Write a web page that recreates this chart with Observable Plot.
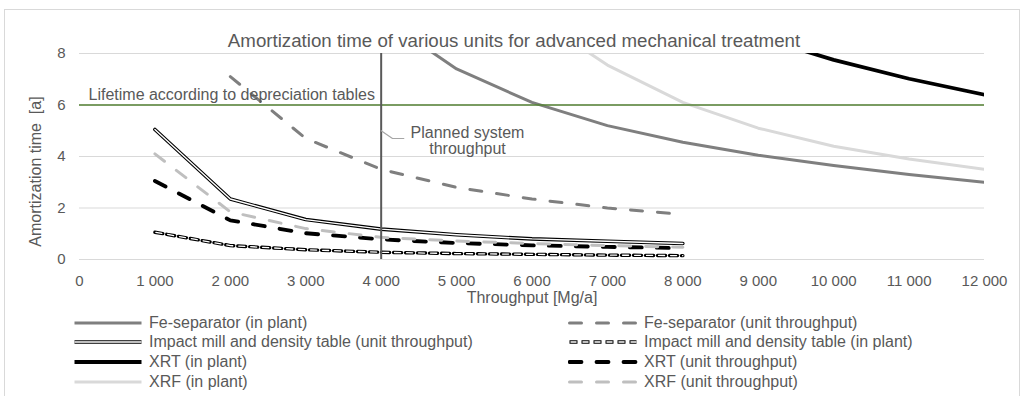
<!DOCTYPE html>
<html>
<head>
<meta charset="utf-8">
<script src="https://cdn.jsdelivr.net/npm/d3@7"></script>
<script src="https://cdn.jsdelivr.net/npm/@observablehq/plot@0.6"></script>
<style>
  html, body { margin: 0; padding: 0; background: #fff; }
  #wrap { position: relative; width: 1023px; height: 396px; overflow: hidden;
          font-family: "Liberation Sans", Arial, sans-serif; }
  #frame { position: absolute; left: 4px; top: 9px; width: 1016px; height: 420px;
           border: 1px solid #d9d9d9; box-sizing: border-box; }
  #chart { position: absolute; left: 0; top: 0; }
  #legend { position: absolute; left: 73px; top: 312.7px; display: grid;
            grid-template-columns: 495px 450px; grid-auto-rows: 19.7px; }
  .item { display: flex; align-items: center; font-size: 16px; color: #595959;
          white-space: nowrap; line-height: 19.7px; }
  .item svg { margin-right: 6px; flex: none; }
</style>
</head>
<body>
<div id="wrap">
  <div id="frame"></div>
  <div id="chart"></div>
  <div id="legend"></div>
</div>
<script>
// ---------- data ----------
const titleText = "Amortization time of various units for advanced mechanical treatment";
const xTitle = "Throughput [Mg/a]";
const yTitle = "Amortization time\u00a0 [a]";
const lifetimeLabel = "Lifetime according to depreciation tables";
const plannedLabel = "Planned system\nthroughput";

const throughput = [1000, 2000, 3000, 4000, 5000, 6000, 7000, 8000, 9000, 10000, 11000, 12000];
const xTicks = [0, 1000, 2000, 3000, 4000, 5000, 6000, 7000, 8000, 9000, 10000, 11000, 12000];
const yTicks = [0, 2, 4, 6, 8];

const feInPlant      = [null, null, null, 9.4, 7.4, 6.1, 5.2, 4.55, 4.05, 3.65, 3.3, 3.0];
const feUnit         = [null, 7.1, 4.7, 3.5, 2.8, 2.35, 2.0, 1.75, null, null, null, null];
const impactUnit     = [5.05, 2.35, 1.55, 1.18, 0.96, 0.8, 0.71, 0.62, null, null, null, null];
const impactInPlant  = [1.06, 0.54, 0.38, 0.28, 0.23, 0.2, 0.17, 0.15, null, null, null, null];
const xrtInPlant     = [null, null, null, null, null, null, null, null, 8.65, 7.75, 7.02, 6.4];
const xrtUnit        = [3.05, 1.52, 1.02, 0.78, 0.64, 0.55, 0.49, 0.44, null, null, null, null];
const xrfInPlant     = [null, null, null, null, null, 9.5, 7.55, 6.1, 5.1, 4.4, 3.9, 3.5];
const xrfUnit        = [4.1, 1.85, 1.2, 0.86, 0.72, 0.62, 0.54, 0.48, null, null, null, null];

const seriesNames = [
  "Fe-separator (in plant)",
  "Fe-separator (unit throughput)",
  "Impact mill and density table (unit throughput)",
  "Impact mill and density table (in plant)",
  "XRT (in plant)",
  "XRT (unit throughput)",
  "XRF (in plant)",
  "XRF (unit throughput)"
];
const seriesValues = [feInPlant, feUnit, impactUnit, impactInPlant, xrtInPlant, xrtUnit, xrfInPlant, xrfUnit];

const lifetime = 6;
const plannedThroughput = 4000;
// annotation leader and label anchor (data coordinates)
const leaderX = [4000, 4150, 4300];
const leaderY = [5.0, 4.7, 4.7];
const plannedLabelX = 5145;
const plannedLabelY = 4.62;

// ---------- styles ----------
const DASH = "12,15";
const styles = [
  [{stroke: "#7f7f7f", strokeWidth: 3}],
  [{stroke: "#7f7f7f", strokeWidth: 3, strokeDasharray: DASH, strokeLinecap: "round"}],
  [{stroke: "#000", strokeWidth: 3.6}, {stroke: "#fff", strokeWidth: 1.4}],
  [{stroke: "#000", strokeWidth: 3.4, strokeDasharray: "8,4"},
   {stroke: "#fff", strokeWidth: 1.3, strokeDasharray: "6,6", strokeDashoffset: -1}],
  [{stroke: "#000", strokeWidth: 3.8}],
  [{stroke: "#000", strokeWidth: 3.8, strokeDasharray: DASH, strokeLinecap: "round"}],
  [{stroke: "#d9d9d9", strokeWidth: 3}],
  [{stroke: "#bfbfbf", strokeWidth: 3, strokeDasharray: DASH, strokeLinecap: "round"}]
];

const fmt = d => d3.format(",")(d).replace(/,/g, " ");
const textColor = "#595959";

// ---------- line marks ----------
const lineMarks = [];
seriesValues.forEach((vals, s) => {
  const pts = throughput.map((x, i) => ({x, y: vals[i]})).filter(d => d.y != null);
  styles[s].forEach(st => {
    lineMarks.push(Plot.line(pts, {x: "x", y: "y", clip: true, strokeLinejoin: "round", ...st}));
  });
});

const leader = leaderX.map((x, i) => ({x, y: leaderY[i]}));

const chart = Plot.plot({
  width: 1023,
  height: 312,
  marginLeft: 79,
  marginRight: 39,
  marginTop: 53,
  marginBottom: 53,
  style: {fontFamily: "'Liberation Sans', Arial, sans-serif", fontSize: "15px", color: textColor, background: "transparent"},
  x: {domain: [0, 12000]},
  y: {domain: [0, 8]},
  marks: [
    Plot.ruleY(yTicks, {stroke: "#d9d9d9", strokeWidth: 1}),
    ...lineMarks,
    Plot.ruleY([lifetime], {stroke: "#548235", strokeWidth: 1.5}),
    Plot.ruleX([plannedThroughput], {y1: 0, y2: 8, stroke: "#595959", strokeWidth: 2}),
    Plot.line(leader, {x: "x", y: "y", stroke: "#a6a6a6", strokeWidth: 1.2}),
    Plot.text([plannedLabel], {x: plannedLabelX, y: plannedLabelY, text: d => d, fontSize: 16, fill: textColor, lineHeight: 1.05}),
    Plot.text([lifetimeLabel], {x: 0, y: lifetime, text: d => d, textAnchor: "start", dx: 9, dy: -10, fontSize: 16, fill: textColor}),
    Plot.text([titleText], {frameAnchor: "top", text: d => d, dx: -18, dy: -20, fontSize: 18.7, fill: textColor}),
    Plot.text([xTitle], {frameAnchor: "bottom", text: d => d, dy: 43, fontSize: 16, fill: textColor}),
    Plot.text([yTitle], {frameAnchor: "left", text: d => d, textAnchor: "middle", dx: -44, dy: 15, rotate: -90, fontSize: 16, fill: textColor}),
    Plot.axisY({ticks: yTicks, tickSize: 0, tickPadding: 14, label: null, fontSize: 15}),
    Plot.axisX({ticks: xTicks, tickFormat: fmt, tickSize: 0, tickPadding: 16, label: null, fontSize: 15})
  ]
});
document.getElementById("chart").appendChild(chart);

// ---------- legend ----------
const legend = d3.select("#legend");
seriesNames.forEach((name, s) => {
  const item = legend.append("div").attr("class", "item");
  const svg = item.append("svg").attr("width", 70).attr("height", 12);
  styles[s].forEach(st => {
    const ln = svg.append("line").attr("x1", 1.5).attr("x2", 68.5).attr("y1", 6).attr("y2", 6)
      .attr("stroke", st.stroke).attr("stroke-width", st.strokeWidth);
    if (st.strokeDasharray) ln.attr("stroke-dasharray", st.strokeDasharray);
    if (st.strokeDashoffset) ln.attr("stroke-dashoffset", st.strokeDashoffset);
    if (st.strokeLinecap) ln.attr("stroke-linecap", st.strokeLinecap);
  });
  item.append("span").text(name);
});
</script>
</body>
</html>
